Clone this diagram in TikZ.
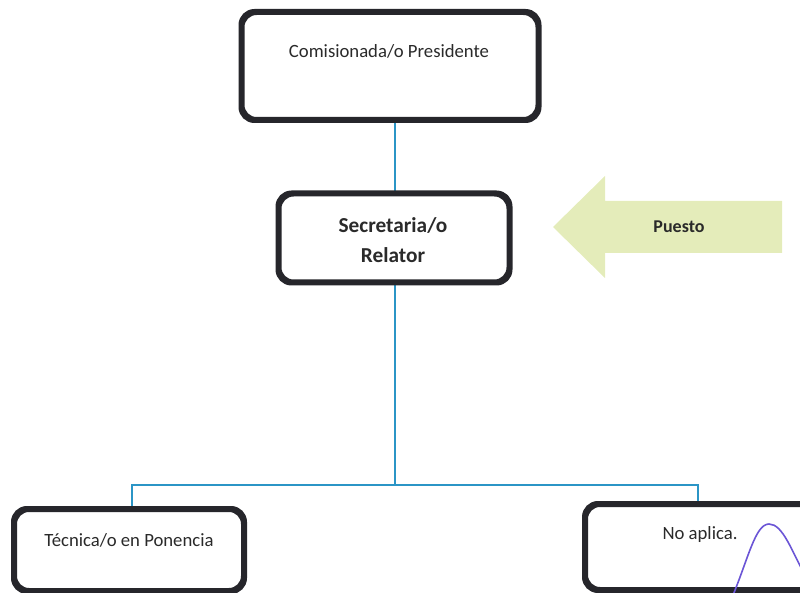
\documentclass[tikz,border=0pt]{standalone}
\usepackage{fontspec}
\setmainfont{Carlito}
\begin{document}
\begin{tikzpicture}[x=1pt,y=-1pt,
  orgbox/.style={draw=boxedge, line width=4pt, rounded corners=14pt, fill=white, inner sep=0pt},
  boxtext/.style={font=\fontsize{18.7}{22}\selectfont, text=textgray, inner sep=0pt},
  boldtext/.style={font=\fontsize{21.3}{30}\selectfont\bfseries, text=textgray, align=center, inner sep=0pt},
  link/.style={draw=linkblue, line width=1.8pt},
  pointer/.style={fill=arrowgreen, draw=none}]
\definecolor{boxedge}{HTML}{26262B}
\definecolor{textgray}{HTML}{2A2A2A}
\definecolor{linkblue}{HTML}{2B95C6}
\definecolor{arrowgreen}{HTML}{E4ECBA}
\definecolor{curvepurple}{HTML}{6B55D6}
\useasboundingbox (0,0) rectangle (800,593);
\clip (0,0) rectangle (800,593);

% boxes
\node[orgbox, minimum width=295pt, minimum height=106pt] (pres) at (390,66) {};
\node[orgbox, minimum width=229pt, minimum height=87pt] (secr) at (394,238) {};
\node[orgbox, minimum width=228pt, minimum height=80pt] (tecn) at (129,550) {};
\node[orgbox, minimum width=260pt, minimum height=84pt] (noap) at (716,547) {};

% connectors
\coordinate (hub) at (395,485);
\draw[link] (pres.south -| hub) -- (secr.north -| hub);
\draw[link] (secr.south -| hub) -- (hub);
\draw[link] (tecn.north -| 132,0) |- (hub) -| (noap.north -| 698,0);

% redraw box outlines over the connector ends
\draw[draw=boxedge, line width=4pt, rounded corners=14pt] (pres.north west) rectangle (pres.south east);
\draw[draw=boxedge, line width=4pt, rounded corners=14pt] (secr.north west) rectangle (secr.south east);
\draw[draw=boxedge, line width=4pt, rounded corners=14pt] (tecn.north west) rectangle (tecn.south east);
\draw[draw=boxedge, line width=4pt, rounded corners=14pt] (noap.north west) rectangle (noap.south east);

% texts
\node[boxtext] (prestxt) at (389,51) {Comisionada/o Presidente};
\node[boldtext] (secrtxt) at (393,240) {Secretaria/o\\Relator};
\node[boxtext] (tecntxt) at (129,540) {Técnica/o en Ponencia};
\node[boxtext] (noaptxt) at (700,535) {No aplica.};

% pointer arrow
\fill[pointer] (553,227) -- (605,176) -- (605,201) -- (782,201) -- (782,253) -- (605,253) -- (605,278) -- cycle;
\node[font=\fontsize{18}{20}\selectfont\bfseries, text=textgray] (puesto) at (679,227) {Puesto};

% curve inside the last box
\draw[curvepurple, line width=1.6pt] (731,600) .. controls (748,560) and (755,524) .. (769,524) .. controls (783,524) and (792,552) .. (805,575);
\end{tikzpicture}
\end{document}
